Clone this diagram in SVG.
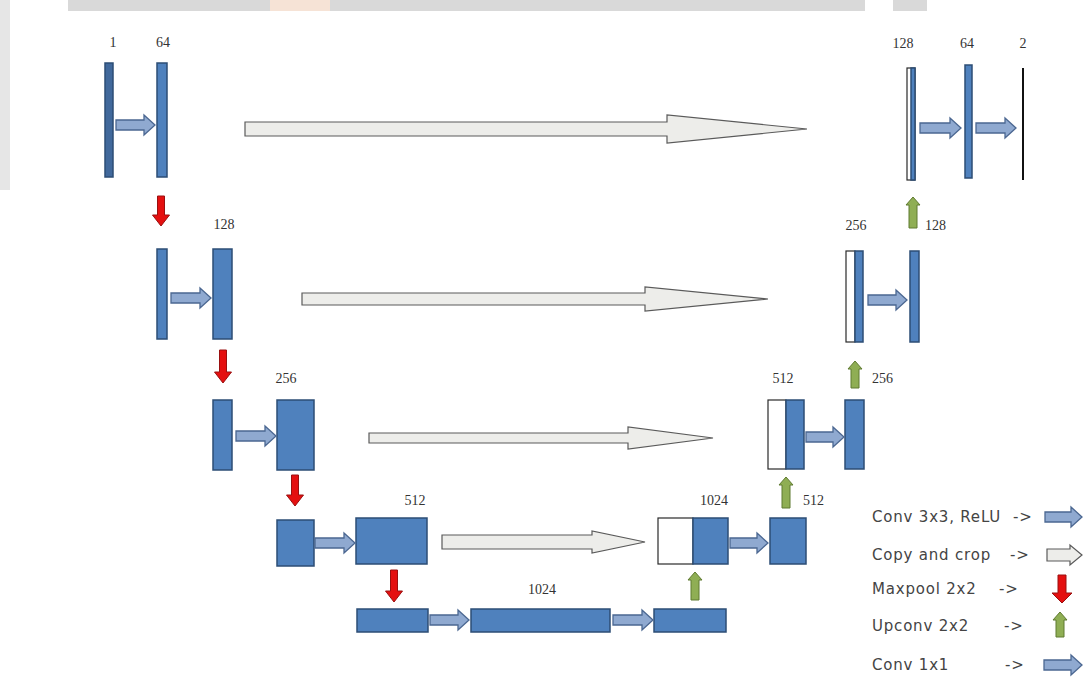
<svg xmlns="http://www.w3.org/2000/svg" width="1085" height="695" viewBox="0 0 1085 695">
<style>
.bg{fill:#ffffff}
.bar{fill:#4f81bd;stroke:#2c4d75;stroke-width:1.5}
.bar-d{fill:#41699c;stroke:#2c4d75;stroke-width:1.5}
.wh{fill:#ffffff;stroke:#2a2a2a;stroke-width:1.2}
.conv{fill:#8fa9d0;stroke:#4b6791;stroke-width:1.3}
.copy{fill:#ededea;stroke:#5a5a5a;stroke-width:1.2}
.pool{fill:#e41010;stroke:#9a1010;stroke-width:1}
.up{fill:#8fae54;stroke:#5f7a30;stroke-width:1}
.num{font-family:"Liberation Serif",serif;font-size:14px;fill:#333;text-anchor:middle}
.numl{font-family:"Liberation Serif",serif;font-size:14px;fill:#333}
.leg{font-family:"DejaVu Sans",sans-serif;font-size:15px;letter-spacing:0.8px;fill:#444}
</style>
<rect class="bg" x="0" y="0" width="1085" height="695"/>
<g id="background-band">
<rect x="68" y="0" width="797" height="11" fill="#d9d9d9"/>
<rect x="893" y="0" width="34" height="11" fill="#d9d9d9"/>
<rect x="270" y="0" width="60" height="11" fill="#f6e3d6"/>
<rect x="0" y="0" width="10" height="190" fill="#e6e6e6"/>
</g>

<g id="enc1">
<rect class="bar-d" x="105" y="63" width="8" height="114"/>
<text class="num" x="113" y="47">1</text>
</g>
<g id="enc1b">
<rect class="bar" x="157" y="63" width="10" height="114"/>
<text class="num" x="163" y="47">64</text>
</g>
<g id="enc2">
<rect class="bar" x="157" y="249" width="10" height="90"/>
</g>
<g id="enc2b">
<rect class="bar" x="213" y="249" width="19" height="90"/>
<text class="num" x="224" y="229">128</text>
</g>
<g id="enc3">
<rect class="bar" x="213" y="400" width="19" height="70"/>
</g>
<g id="enc3b">
<rect class="bar" x="277" y="400" width="37" height="70"/>
<text class="num" x="286" y="383">256</text>
</g>
<g id="enc4">
<rect class="bar" x="277" y="520" width="37" height="46"/>
</g>
<g id="enc4b">
<rect class="bar" x="356" y="518" width="71" height="46"/>
<text class="num" x="415" y="505">512</text>
</g>
<g id="bot1">
<rect class="bar" x="357" y="609" width="71" height="23"/>
</g>
<g id="bot2">
<rect class="bar" x="471" y="609" width="139" height="23"/>
<text class="num" x="542" y="594">1024</text>
</g>
<g id="bot3">
<rect class="bar" x="654" y="609" width="72" height="23"/>
</g>
<g id="dec4">
<rect class="wh" x="658" y="518" width="35" height="46"/>
<rect class="bar" x="693" y="518" width="35" height="46"/>
<text class="num" x="714" y="505">1024</text>
</g>
<g id="dec4b">
<rect class="bar" x="770" y="518" width="36" height="46"/>
<text class="numl" x="803" y="505">512</text>
</g>
<g id="dec3">
<rect class="wh" x="768" y="400" width="18" height="69"/>
<rect class="bar" x="786" y="400" width="18" height="69"/>
<text class="num" x="783" y="383">512</text>
</g>
<g id="dec3b">
<rect class="bar" x="845" y="400" width="19" height="69"/>
<text class="numl" x="872" y="383">256</text>
</g>
<g id="dec2">
<rect class="wh" x="846" y="251" width="9" height="91"/>
<rect class="bar" x="855" y="251" width="8" height="91"/>
<text class="num" x="856" y="230">256</text>
</g>
<g id="dec2b">
<rect class="bar" x="910" y="251" width="9" height="91"/>
<text class="numl" x="925" y="230">128</text>
</g>
<g id="dec1">
<rect class="wh" x="907" y="68" width="8" height="112"/>
<rect class="bar" x="911" y="68" width="4" height="112"/>
<text class="num" x="903" y="48">128</text>
</g>
<g id="dec1b">
<rect class="bar" x="965" y="65" width="7" height="113"/>
<text class="num" x="967" y="48">64</text>
</g>
<g id="out">
<rect x="1022" y="68" width="2" height="112" fill="#111"/>
<text class="num" x="1023" y="48">2</text>
</g>

<g id="connectors">
<polygon class="conv" points="116,120 144,120 144,115 155,125 144,135 144,130 116,130"/>
<polygon class="conv" points="920,123 950,123 950,118 961,128 950,138 950,133 920,133"/>
<polygon class="conv" points="976,123 1005,123 1005,118 1016,128 1005,138 1005,133 976,133"/>
<polygon class="conv" points="171,293 200,293 200,288 211,298 200,308 200,303 171,303"/>
<polygon class="conv" points="868,295 896,295 896,290 907,300 896,310 896,305 868,305"/>
<polygon class="conv" points="236,431 265,431 265,426 276,436 265,446 265,441 236,441"/>
<polygon class="conv" points="806,432 833,432 833,427 844,437 833,447 833,442 806,442"/>
<polygon class="conv" points="315,538 344,538 344,533 355,543 344,553 344,548 315,548"/>
<polygon class="conv" points="730,538 757,538 757,533 768,543 757,553 757,548 730,548"/>
<polygon class="conv" points="430,615 458,615 458,610 469,620 458,630 458,625 430,625"/>
<polygon class="conv" points="613,615 642,615 642,610 653,620 642,630 642,625 613,625"/>

<polygon class="copy" points="245,122 667,122 667,115 807,129 667,143 667,136 245,136"/>
<polygon class="copy" points="302,293 645,293 645,287 768,299 645,311 645,305 302,305"/>
<polygon class="copy" points="369,433 628,433 628,427 713,438 628,449 628,443 369,443"/>
<polygon class="copy" points="442,535 592,535 592,531 645,542 592,553 592,549 442,549"/>

<polygon class="pool" points="157.5,196 164.5,196 164.5,215 169.5,215 161,226 152.5,215 157.5,215"/>
<polygon class="pool" points="219.5,350 226.5,350 226.5,372 231.5,372 223,383 214.5,372 219.5,372"/>
<polygon class="pool" points="291.5,475 298.5,475 298.5,495 303.5,495 295,506 286.5,495 291.5,495"/>
<polygon class="pool" points="390.5,570 397.5,570 397.5,591 402.5,591 394,602 385.5,591 390.5,591"/>

<polygon class="up" points="913,197 920,205 917,205 917,228 909,228 909,205 906,205"/>
<polygon class="up" points="855,361 862,369 859,369 859,388 851,388 851,369 848,369"/>
<polygon class="up" points="786,477 793,485 790,485 790,508 782,508 782,485 779,485"/>
<polygon class="up" points="695,572 702,580 699,580 699,600 691,600 691,580 688,580"/>
</g>

<g id="legend">
<text class="leg" x="872" y="522">Conv 3x3, ReLU</text>
<text class="leg" x="1013" y="522">-&gt;</text>
<polygon class="conv" points="1045,512 1071,512 1071,507 1082,517 1071,527 1071,522 1045,522"/>
<text class="leg" x="872" y="560">Copy and crop</text>
<text class="leg" x="1010" y="560">-&gt;</text>
<polygon class="copy" points="1047,549 1070,549 1070,545 1082,555 1070,565 1070,561 1047,561"/>
<text class="leg" x="872" y="594">Maxpool 2x2</text>
<text class="leg" x="999" y="594">-&gt;</text>
<polygon class="pool" points="1058,575 1066,575 1066,593 1072,593 1062,603 1052,593 1058,593"/>
<text class="leg" x="872" y="631">Upconv 2x2</text>
<text class="leg" x="1004" y="631">-&gt;</text>
<polygon class="up" points="1060,612 1067,620 1064,620 1064,637 1056,637 1056,620 1053,620"/>
<text class="leg" x="872" y="670">Conv 1x1</text>
<text class="leg" x="1005" y="670">-&gt;</text>
<polygon class="conv" points="1044,660 1071,660 1071,655 1082,665 1071,675 1071,670 1044,670"/>
</g>
</svg>
